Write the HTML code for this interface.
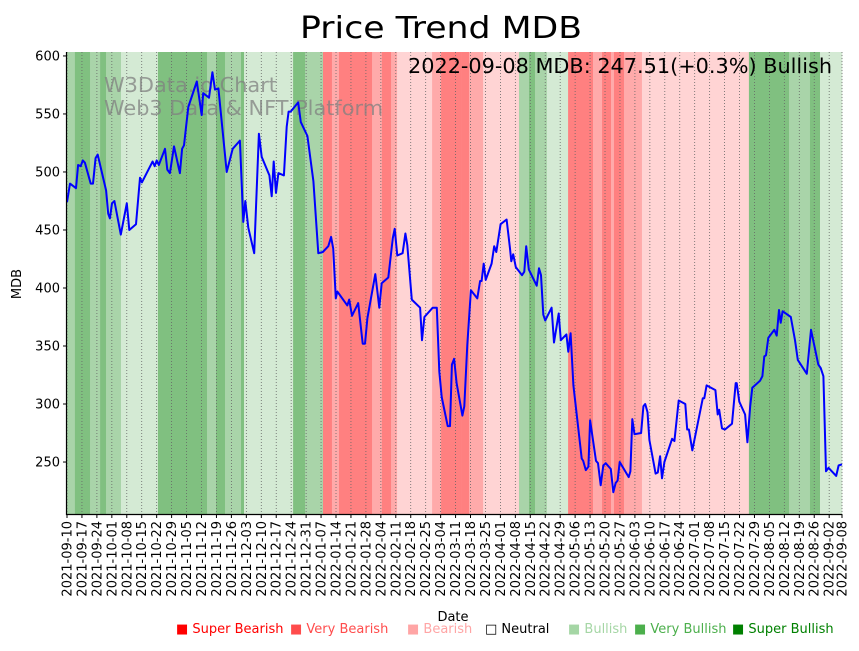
<!DOCTYPE html>
<html><head><meta charset="utf-8">
<style>
html,body{margin:0;padding:0;background:#fff;}
svg text{font-family:"DejaVu Sans","Liberation Sans",sans-serif;}
</style></head>
<body>
<svg id="chart" width="859" height="646" xmlns="http://www.w3.org/2000/svg">
<text x="441" y="38" font-size="30" text-anchor="middle" textLength="282" lengthAdjust="spacingAndGlyphs" fill="#000">Price Trend MDB</text>
<g id="bands"></g>
<g id="grid"></g>
<text x="104" y="92" font-size="20" textLength="173" lengthAdjust="spacingAndGlyphs" fill="#808080" fill-opacity="0.75">W3Data.io Chart</text>
<text x="104" y="115" font-size="20" textLength="279" lengthAdjust="spacingAndGlyphs" fill="#808080" fill-opacity="0.75">Web3 Data &amp; NFT Platform</text>
<path id="line" fill="none" stroke="#0000ff" stroke-width="2" stroke-linejoin="round"/>
<text x="832" y="73" font-size="20" text-anchor="end" textLength="424" lengthAdjust="spacingAndGlyphs" fill="#000">2022-09-08 MDB: 247.51(+0.3%) Bullish</text>
<g id="axes"></g>
<text x="453" y="621" font-size="13" text-anchor="middle">Date</text>
<text transform="translate(21,284) rotate(-90)" font-size="13" text-anchor="middle">MDB</text>
<g font-size="13">
<text x="176" y="633" fill="#ff0000">■ Super Bearish</text>
<text x="290" y="633" fill="#ff4c4c">■ Very Bearish</text>
<text x="407" y="633" fill="#ffa5a5">■ Bearish</text>
<text x="485" y="633" fill="#000">□ Neutral</text>
<text x="568" y="633" fill="#a5d6a5">■ Bullish</text>
<text x="634" y="633" fill="#4caf4c">■ Very Bullish</text>
<text x="732" y="633" fill="#008000">■ Super Bullish</text>
</g>
</svg>
<script>
const days=[0,1.4,4.2,5.2,6.4,7.4,8.4,11.1,12.2,13.4,14.4,18.3,19.3,20.1,21.1,22.2,25.2,28,29.2,32.3,34.2,35.1,40.1,41.1,42,43,45.9,47,48.2,50.1,52.9,53.9,54.8,56.8,60.8,63.1,63.8,66.5,68.1,69.3,70.9,74.8,77.6,81,82.6,83.5,84.9,87.7,89.9,91.2,94.8,95.9,96.8,97.9,99,101.6,102.9,103.8,104.8,108.3,109.5,112.6,115.4,117.7,119.8,122.4,123.7,124.7,125.9,126.6,131.3,132.2,133.5,136.4,138.5,139.6,140.7,144.4,146.3,147.4,150.5,152.6,153.5,154.7,157.2,158.5,159.4,161.5,165.4,166.3,167.4,171.3,173.2,174.4,175.5,178.3,179.4,180.3,181.3,182.5,185.2,186.1,187.5,189.2,192.2,193.5,194.2,195.2,196.1,198.9,200.1,201.1,203.1,205.9,207.5,208.1,209,210.2,213.1,214.2,215.1,216.3,220,221.1,222,223.1,224,227,228.1,230.3,231.3,233.9,234.8,235.9,237.2,241.1,241.8,243,244.2,245,247.8,248.7,250,251.2,252.3,254.7,255.9,257,257.9,258.9,263.1,263.9,264.8,265.8,268.9,270,270.8,271.9,272.8,275.7,276.7,277.8,278.7,279.8,283.4,284.5,286.5,289.6,290.5,291.3,292.9,297.8,298.5,299.6,303.7,304.8,305.5,306.8,308.2,311.5,313.2,313.7,314.9,317.6,318.7,320,321,324.6,325.7,326.6,327.4,328.5,331.3,332.4,333.5,334.3,335.2,339,341,342.3,346.5,348.5,351.9,353,354.3,355.5,356.7,360.3,361.4,363];
const prices=[474,490,486,506,505,510,508,490,490,512,515,484,464,460,473,475,446,473,450,455,495,491,509,505,510,506,520,502,499,522,499,520,523,556,578,549,568,564,586,571,572,500,520,527,457,475,452,430,533,513,497,479,509,482,499,497,539,552,552,560,543,531,492,430,431,436,444,434,391,397,385,390,376,387,352,352,374,412,383,404,409,443,451,428,430,447,437,390,383,355,375,383,383,328,306,281,281,334,339,318,290,298,351,398,391,406,406,421,407,421,436,431,455,459,434,423,429,418,411,414,436,416,402,417,411,377,372,383,353,378,355,360,345,361,316,253,251,243,246,286,251,249,230,247,249,244,224,232,234,250,237,242,287,274,275,298,300,293,269,240,241,255,236,250,270,268,303,300,278,278,260,305,305,316,312,291,295,279,278,283,318,318,302,291,267,298,314,320,324,341,342,357,364,359,381,370,380,375,355,338,326,364,334,331,324,242,245,238,247,248];
const bandStart=[0,3.7,10.8,15.5,18.3,25.3,42.6,65.6,69.8,74,81.5,82.9,105.9,111.5,119.9,124.1,127.4,142.9,147.5,151.8,154.6,171,175.2,184.6,188.3,194.9,211.7,216.4,219.2,224.8,234.7,246.4,250.6,254.8,256.2,260.9,269.3,319.4,338.2,348,352.7];
const bandLevel=[2,3,2,3,2,1,3,2,3,2,3,1,3,2,-3,-2,-3,-2,-3,-2,-1,-2,-3,-3,-2,-1,2,3,2,1,-3,-2,-3,-2,-3,-2,-1,3,2,3,1];
const yTicks=[250,300,350,400,450,500,550,600];
const tickLabels=[];
(function(){const s=Date.UTC(2021,8,10);for(let k=0;k<=51;k++){tickLabels.push(new Date(s+k*7*864e5).toISOString().slice(0,10));}tickLabels.push('2022-09-08');})();
const TOTAL=363,X0=67,X1=842,Y0=52,Y1=514,VMIN=205.2,VMAX=603.4;
const xs=d=>X0+(d/TOTAL)*(X1-X0);
const ys=v=>Y1-(v-VMIN)/(VMAX-VMIN)*(Y1-Y0);
const NS='http://www.w3.org/2000/svg';
const colors={'3':'#80c080','2':'#a9d4a9','1':'#d4ead4','-1':'#ffd4d4','-2':'#ffaaaa','-3':'#ff8080'};
const bands=document.getElementById('bands');
for(let i=0;i<bandStart.length;i++){
  const e=i+1<bandStart.length?bandStart[i+1]:TOTAL;
  const r=document.createElementNS(NS,'rect');
  
  
  r.setAttribute('x',xs(bandStart[i]));r.setAttribute('width',xs(e)-xs(bandStart[i])+0.3);
  r.setAttribute('y',Y0);r.setAttribute('height',Y1-Y0);
  r.setAttribute('fill',colors[String(bandLevel[i])]);
  bands.appendChild(r);
}
const grid=document.getElementById('grid'),axes=document.getElementById('axes');
tickLabels.forEach((lab,k)=>{
  const d=k<52?k*7:TOTAL, x=xs(d);
  const g=document.createElementNS(NS,'line');
  
  
  g.setAttribute('x1',x);g.setAttribute('x2',x);g.setAttribute('y1',Y0);g.setAttribute('y2',Y1);
  g.setAttribute('stroke','#666');g.setAttribute('stroke-width','0.8');g.setAttribute('stroke-dasharray','1,2');
  grid.appendChild(g);
  const t=document.createElementNS(NS,'line');
  
  
  t.setAttribute('x1',x);t.setAttribute('x2',x);t.setAttribute('y1',Y1);t.setAttribute('y2',Y1+4);t.setAttribute('stroke','#000');
  axes.appendChild(t);
  const tx=document.createElementNS(NS,'text');
  
  
  tx.setAttribute('transform','translate('+(x+4.5)+','+(Y1+7)+') rotate(-90)');
  tx.setAttribute('font-size','13');tx.setAttribute('text-anchor','end');
  tx.textContent=lab;axes.appendChild(tx);
});
yTicks.forEach(v=>{
  const y=ys(v);
  const t=document.createElementNS(NS,'line');
  
  
  t.setAttribute('x1',X0-4);t.setAttribute('x2',X0);t.setAttribute('y1',y);t.setAttribute('y2',y);t.setAttribute('stroke','#000');
  axes.appendChild(t);
  const tx=document.createElementNS(NS,'text');
  
  
  tx.setAttribute('x',X0-7);tx.setAttribute('y',y+4.5);tx.setAttribute('font-size','13');tx.setAttribute('text-anchor','end');
  tx.textContent=v;axes.appendChild(tx);
});
const sp=document.createElementNS(NS,'path');


sp.setAttribute('d','M'+(X0-0.5)+' '+Y0+' V'+(Y1+0.5)+' H'+X1);
sp.setAttribute('stroke','#000');sp.setAttribute('fill','none');sp.setAttribute('stroke-width','1.2');
axes.appendChild(sp);
document.getElementById('line').setAttribute('d',days.map((d,i)=>(i?'L':'M')+xs(d).toFixed(1)+' '+ys(prices[i]).toFixed(1)).join(' '));
</script>
</body></html>
